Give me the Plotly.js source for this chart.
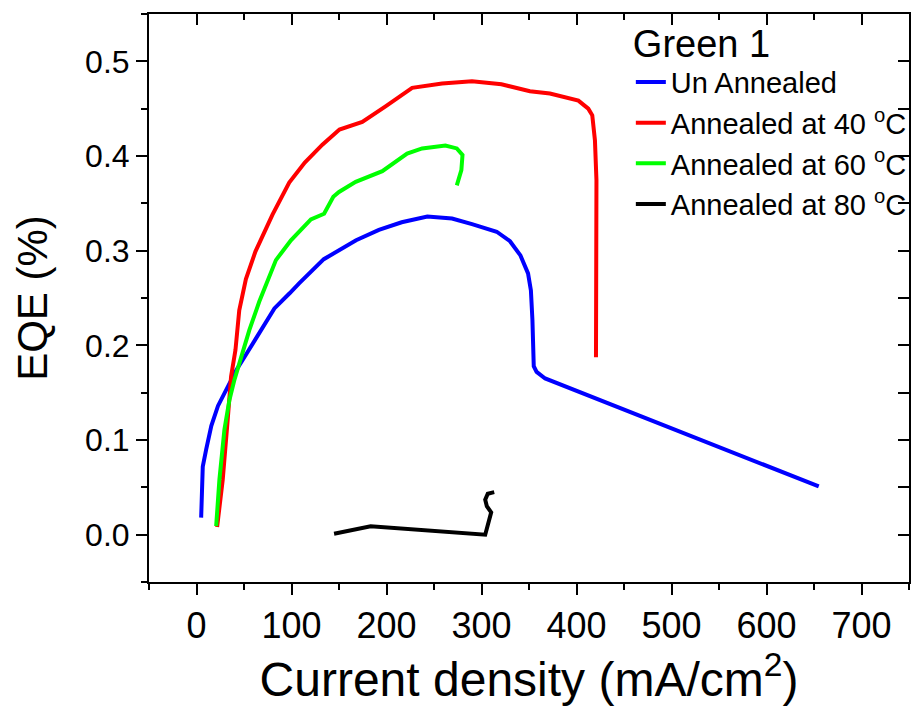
<!DOCTYPE html>
<html>
<head>
<meta charset="utf-8">
<script src="https://cdn.plot.ly/plotly-3.0.1.min.js"></script>
<style>html,body{margin:0;padding:0;background:#fff;}#chart{width:915px;height:706px;}</style>
</head>
<body>
<div id="chart"></div>
<script>
// Un Annealed
const unX = [4.9, 6, 6.6, 10.2, 15.6, 22.6, 31, 42, 52, 71.6, 82, 98, 108, 134, 168, 192, 216, 243, 269, 290, 316, 330, 341, 349, 352, 353.6, 354, 355, 358, 367, 655];
const unY = [0.018, 0.058, 0.072, 0.090, 0.115, 0.136, 0.153, 0.174, 0.190, 0.222, 0.239, 0.255, 0.2655, 0.291, 0.311, 0.322, 0.330, 0.336, 0.334, 0.328, 0.320, 0.310, 0.295, 0.276, 0.258, 0.227, 0.200, 0.178, 0.172, 0.165, 0.051];
// Annealed at 40 C
const a40X = [21.7, 27.6, 32.8, 36.4, 41, 45, 52, 62, 80, 97.6, 114, 132.5, 150.5, 174.5, 199, 227, 258.5, 290, 321, 351, 372, 402, 412.4, 416.6, 419.4, 421, 420.5];
const a40Y = [0.008, 0.058, 0.121, 0.167, 0.195, 0.237, 0.270, 0.299, 0.338, 0.372, 0.393, 0.412, 0.428, 0.436, 0.4525, 0.472, 0.4765, 0.479, 0.4757, 0.4684, 0.466, 0.4585, 0.450, 0.443, 0.4167, 0.3745, 0.1875];
// Annealed at 60 C
const a60X = [20.7, 24.1, 29.4, 34.6, 39.9, 45, 55.6, 66, 75, 83.6, 99.4, 113.3, 120.4, 134.3, 144, 150, 167.6, 195.6, 221.7, 237.5, 262, 274, 280, 278.8, 274];
const a60Y = [0.009, 0.058, 0.111, 0.142, 0.1635, 0.181, 0.216, 0.246, 0.268, 0.290, 0.311, 0.325, 0.333, 0.339, 0.357, 0.362, 0.3727, 0.384, 0.4026, 0.408, 0.411, 0.408, 0.401, 0.385, 0.369];
// Annealed at 80 C
const a80X = [144.8, 183.3, 303.9, 310.2, 305.6, 303.9, 306.6, 313.4];
const a80Y = [0.001, 0.0088, 0.0, 0.0236, 0.030, 0.037, 0.0433, 0.0449];

const names = ['Un Annealed', 'Annealed at 40 <sup>o</sup>C', 'Annealed at 60 <sup>o</sup>C', 'Annealed at 80 <sup>o</sup>C'];
const colors = ['#0000ff', '#ff0000', '#00ff00', '#000000'];
const xTickVals = [0, 100, 200, 300, 400, 500, 600, 700];
const yTickVals = [0.0, 0.1, 0.2, 0.3, 0.4, 0.5];
const yTickText = ['0.0', '0.1', '0.2', '0.3', '0.4', '0.5'];

const series = [[unX, unY], [a40X, a40Y], [a60X, a60Y], [a80X, a80Y]];
const traces = series.map((s, i) => ({
  x: s[0], y: s[1], type: 'scatter', mode: 'lines', name: names[i],
  line: {color: colors[i], width: 4, shape: 'linear'}
}));
// dummy trace to enable the mirrored (top/right) axes
traces.push({x: [null], y: [null], xaxis: 'x2', yaxis: 'y2', type: 'scatter', mode: 'lines', showlegend: false, hoverinfo: 'skip'});

const F = 'Liberation Sans, Arial, sans-serif';
const layout = {
  width: 915, height: 706,
  margin: {l: 149, r: 3, t: 14, b: 124},
  paper_bgcolor: '#fff', plot_bgcolor: '#fff',
  showlegend: true,
  font: {family: F, color: '#000'},
  xaxis: {
    range: [-50, 750], showgrid: false, zeroline: false,
    showline: true, linecolor: '#000', linewidth: 2,
    ticks: 'outside', ticklen: 11, tickwidth: 2, tickcolor: '#000',
    tickvals: xTickVals,
    tickfont: {family: F, size: 36, color: '#000'},
    minor: {ticks: 'outside', ticklen: 6, tickwidth: 2, tickcolor: '#000', dtick: 50, tick0: 0, showgrid: false},
    title: {text: 'Current density (mA/cm<sup>2</sup>)', font: {family: F, size: 48, color: '#000'}, standoff: 14}
  },
  yaxis: {
    range: [-0.05, 0.55], showgrid: false, zeroline: false,
    showline: true, linecolor: '#000', linewidth: 2,
    ticks: 'outside', ticklen: 11, tickwidth: 2, tickcolor: '#000',
    tickvals: yTickVals, ticktext: yTickText,
    tickfont: {family: F, size: 32, color: '#000'},
    ticklabelstandoff: 0,
    minor: {ticks: 'outside', ticklen: 6, tickwidth: 2, tickcolor: '#000', dtick: 0.05, tick0: 0, showgrid: false},
    title: {text: 'EQE (%)', font: {family: F, size: 42, color: '#000'}, standoff: 24}
  },
  xaxis2: {
    overlaying: 'x', side: 'top', range: [-50, 750], showgrid: false, zeroline: false,
    showline: true, linecolor: '#000', linewidth: 2,
    ticks: 'inside', ticklen: 11, tickwidth: 2, tickcolor: '#000',
    tickvals: xTickVals, showticklabels: false,
    minor: {ticks: 'inside', ticklen: 6, tickwidth: 2, tickcolor: '#000', dtick: 50, tick0: 0, showgrid: false}
  },
  yaxis2: {
    overlaying: 'y', side: 'right', range: [-0.05, 0.55], showgrid: false, zeroline: false,
    showline: true, linecolor: '#000', linewidth: 2,
    ticks: 'inside', ticklen: 11, tickwidth: 2, tickcolor: '#000',
    tickvals: yTickVals, showticklabels: false,
    minor: {ticks: 'inside', ticklen: 11, tickwidth: 2, tickcolor: '#000', dtick: 0.05, tick0: 0, showgrid: false}
  },
  legend: {
    x: 0.634, y: 1.012, xanchor: 'left', yanchor: 'top',
    bgcolor: 'rgba(0,0,0,0)', borderwidth: 0,
    font: {family: F, size: 29, color: '#000'},
    title: {text: 'Green 1', font: {family: F, size: 38, color: '#000'}, side: 'top'},
    itemwidth: 30, tracegroupgap: 0
  }
};

Plotly.newPlot('chart', traces, layout, {displayModeBar: false, staticPlot: true});
</script>
</body>
</html>
